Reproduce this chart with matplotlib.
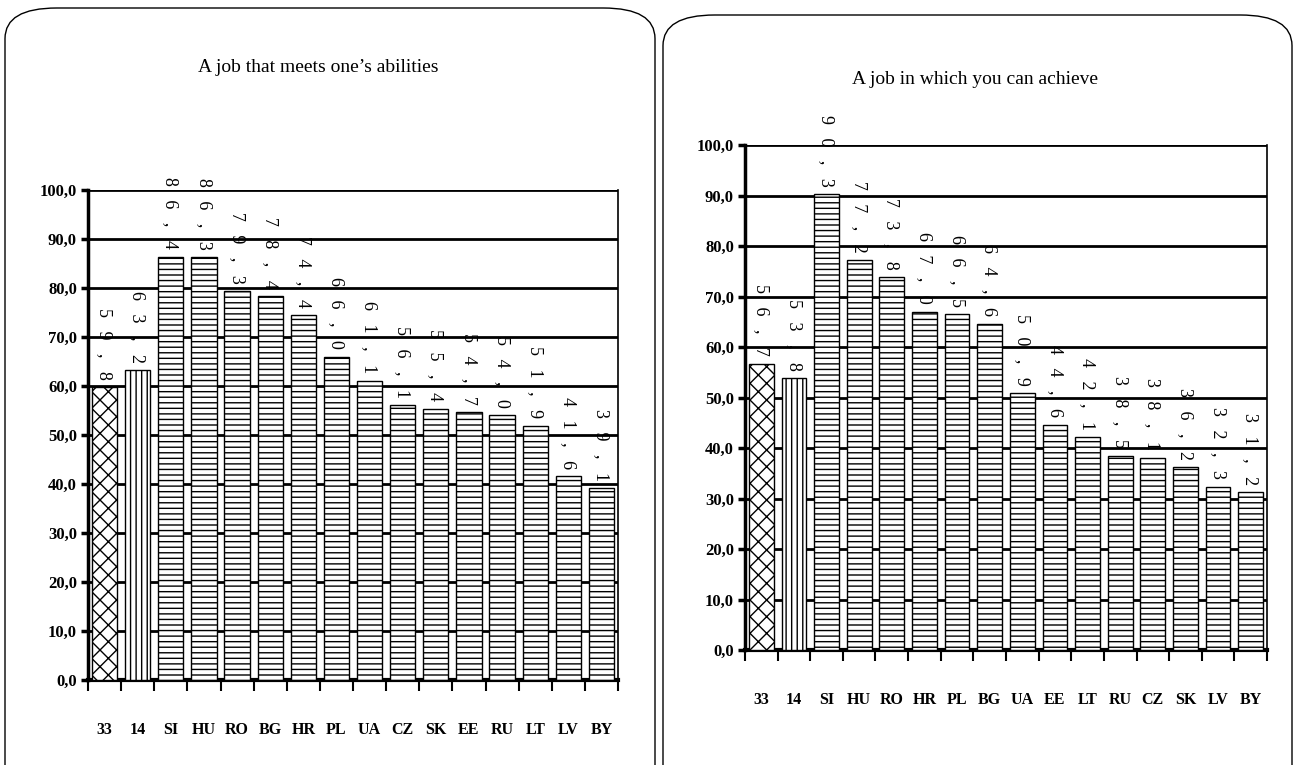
import numpy as np
import matplotlib.pyplot as plt
from matplotlib.patches import FancyBboxPatch

# left chart
cats_left = ['33', '14', 'SI', 'HU', 'RO', 'BG', 'HR', 'PL', 'UA', 'CZ', 'SK', 'EE', 'RU', 'LT', 'LV', 'BY']
vals_left = [59.8, 63.2, 86.4, 86.3, 79.3, 78.4, 74.4, 66.0, 61.1, 56.1, 55.4, 54.7, 54.0, 51.9, 41.6, 39.1]

# right chart
cats_right = ['33', '14', 'SI', 'HU', 'RO', 'HR', 'PL', 'BG', 'UA', 'EE', 'LT', 'RU', 'CZ', 'SK', 'LV', 'BY']
vals_right = [56.7, 53.8, 90.3, 77.2, 73.8, 67.0, 66.5, 64.6, 50.9, 44.6, 42.1, 38.5, 38.1, 36.2, 32.3, 31.2]

title_left = "A job that meets one\u2019s abilities"
title_right = "A job in which you can achieve"

plt.rcParams['font.family'] = ['Liberation Serif', 'DejaVu Serif']
plt.rcParams['hatch.linewidth'] = 1.0


def fmt(v):
    # spaced-out digits, comma decimal
    return '   '.join(f"{v:.1f}".replace('.', ','))


def draw_panel(fig, rect, cats, vals):
    ax = fig.add_axes(rect)
    x = np.arange(len(cats))
    hatches = ['xx', '|||'] + ['---'] * (len(cats) - 2)
    for xi, v, h in zip(x, vals, hatches):
        ax.bar(xi, v, width=0.76, color='white', edgecolor='black',
               linewidth=1.0, hatch=h, zorder=3)
        ax.text(xi, v + 1.5, fmt(v), rotation=-90, ha='center', va='bottom',
                fontsize=13, zorder=4)
    ax.set_xlim(-0.5, len(cats) - 0.5)
    ax.set_ylim(0, 100)
    ticks = np.arange(0, 101, 10)
    ax.set_yticks(ticks)
    ax.set_yticklabels([f"{t:.1f}".replace('.', ',') for t in ticks],
                       fontsize=12, fontweight='bold')
    for t in ticks[1:]:
        ax.axhline(t, color='black', lw=2, zorder=1)
    ax.set_xticks(x)
    ax.set_xticklabels(cats, fontsize=11.5, fontweight='bold')
    ax.tick_params(axis='x', length=0, pad=30)
    ax.set_xticks(np.arange(-0.5, len(cats)), minor=True)
    ax.tick_params(axis='x', which='minor', length=8, width=1.5, direction='out')
    ax.tick_params(axis='y', length=5, width=2.5, direction='out', pad=3)
    ax.spines['top'].set_visible(False)
    ax.spines['left'].set_linewidth(2.5)
    ax.spines['bottom'].set_linewidth(3)
    ax.spines['right'].set_linewidth(1.2)
    return ax


fig = plt.figure(figsize=(12.94, 7.65), dpi=100)

W, H = 1294, 765
# rounded frames
fig.patches.append(FancyBboxPatch((5 / W, -0.05), 650 / W, 1.05 - 8 / H,
                                  boxstyle="round,pad=0,rounding_size=0.04",
                                  transform=fig.transFigure, fill=False,
                                  edgecolor='black', lw=1.0))
fig.patches.append(FancyBboxPatch((663 / W, -0.05), 629 / W, 1.05 - 15 / H,
                                  boxstyle="round,pad=0,rounding_size=0.04",
                                  transform=fig.transFigure, fill=False,
                                  edgecolor='black', lw=1.0))

draw_panel(fig, [88 / W, 1 - 680 / H, 530 / W, 490 / H], cats_left, vals_left)
draw_panel(fig, [745 / W, 1 - 650 / H, 522 / W, 505 / H], cats_right, vals_right)

fig.text(318 / W, 1 - 68 / H, title_left, ha='center', va='center', fontsize=14)
fig.text(975 / W, 1 - 80 / H, title_right, ha='center', va='center', fontsize=14)

fig.savefig('out.png', dpi=100)
